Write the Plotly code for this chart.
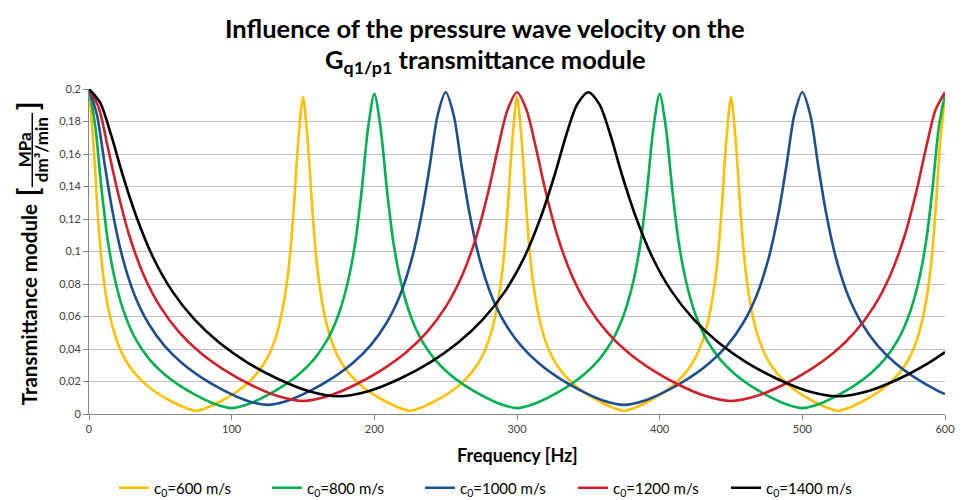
import plotly.graph_objects as go

# ---------------- data ----------------
series_names = ["c<sub>0</sub>=600 m/s", "c<sub>0</sub>=800 m/s", "c<sub>0</sub>=1000 m/s",
                "c<sub>0</sub>=1200 m/s", "c<sub>0</sub>=1400 m/s"]

f_600 = [0, 3.3, 6.7, 10, 14.2, 19.2, 25, 31.7, 39.2, 47.5, 56.7, 65.8, 75,
         84.2, 93.3, 102.5, 110.8, 118.3, 125, 130.8, 135.8, 140, 143.3, 146.7, 150,
         153.3, 156.7, 160, 164.2, 169.2, 175, 181.7, 189.2, 197.5, 206.7, 215.8, 225,
         234.2, 243.3, 252.5, 260.8, 268.3, 275, 280.8, 285.8, 290, 293.3, 296.7, 300,
         303.3, 306.7, 310, 314.2, 319.2, 325, 331.7, 339.2, 347.5, 356.7, 365.8, 375,
         384.2, 393.3, 402.5, 410.8, 418.3, 425, 430.8, 435.8, 440, 443.3, 446.7, 450,
         453.3, 456.7, 460, 464.2, 469.2, 475, 481.7, 489.2, 497.5, 506.7, 515.8, 525,
         534.2, 543.3, 552.5, 560.8, 568.3, 575, 580.8, 585.8, 590, 593.3, 596.7, 600]
g_600 = [0.2, 0.164, 0.116, 0.085, 0.062, 0.046, 0.034, 0.0255, 0.0187, 0.0131, 0.0083, 0.0044, 0.002,
         0.0044, 0.0083, 0.0131, 0.0187, 0.0256, 0.0345, 0.047, 0.065, 0.090, 0.124, 0.168, 0.195,
         0.168, 0.124, 0.090, 0.065, 0.047, 0.0345, 0.0256, 0.0187, 0.0131, 0.0083, 0.0044, 0.002,
         0.0044, 0.0083, 0.0131, 0.0187, 0.0256, 0.0345, 0.047, 0.065, 0.090, 0.124, 0.168, 0.195,
         0.168, 0.124, 0.090, 0.065, 0.047, 0.0345, 0.0256, 0.0187, 0.0131, 0.0083, 0.0044, 0.002,
         0.0044, 0.0083, 0.0131, 0.0187, 0.0256, 0.0345, 0.047, 0.065, 0.090, 0.124, 0.168, 0.195,
         0.168, 0.124, 0.090, 0.065, 0.047, 0.0345, 0.0256, 0.0187, 0.0131, 0.0083, 0.0044, 0.002,
         0.0044, 0.0083, 0.0131, 0.0187, 0.0256, 0.0345, 0.047, 0.065, 0.090, 0.124, 0.168, 0.196]

f_800 = [0, 4.4, 8.9, 13.3, 18.9, 25.6, 33.3, 42.2, 52.2, 63.3, 75.6, 87.8, 100,
         112.2, 124.4, 136.7, 147.8, 157.8, 166.7, 174.4, 181.1, 186.7, 191.1, 195.6, 200,
         204.4, 208.9, 213.3, 218.9, 225.6, 233.3, 242.2, 252.2, 263.3, 275.6, 287.8, 300,
         312.2, 324.4, 336.7, 347.8, 357.8, 366.7, 374.4, 381.1, 386.7, 391.1, 395.6, 400,
         404.4, 408.9, 413.3, 418.9, 425.6, 433.3, 442.2, 452.2, 463.3, 475.6, 487.8, 500,
         512.2, 524.4, 536.7, 547.8, 557.8, 566.7, 574.4, 581.1, 586.7, 591.1, 595.6, 600]
g_800 = [0.2, 0.177, 0.1375, 0.106, 0.080, 0.060, 0.0451, 0.0338, 0.0249, 0.0176, 0.0113, 0.0063, 0.0036,
         0.0063, 0.0113, 0.0176, 0.0249, 0.0338, 0.0451, 0.060, 0.080, 0.106, 0.1375, 0.176, 0.197,
         0.176, 0.1375, 0.106, 0.080, 0.060, 0.0451, 0.0338, 0.0249, 0.0176, 0.0113, 0.0063, 0.0036,
         0.0063, 0.0113, 0.0176, 0.0249, 0.0338, 0.0451, 0.060, 0.080, 0.106, 0.1375, 0.176, 0.197,
         0.176, 0.1375, 0.106, 0.080, 0.060, 0.0451, 0.0338, 0.0249, 0.0176, 0.0113, 0.0063, 0.0036,
         0.0063, 0.0113, 0.0176, 0.0249, 0.0338, 0.0451, 0.060, 0.080, 0.106, 0.1375, 0.176, 0.197]

f_1000 = [0, 5.6, 11.1, 16.7, 23.6, 31.9, 41.7, 52.8, 65.3, 79.2, 94.4, 109.7, 125,
          140.3, 155.6, 170.8, 184.7, 197.2, 208.3, 218.1, 226.4, 233.3, 238.9, 244.4, 250,
          255.6, 261.1, 266.7, 273.6, 281.9, 291.7, 302.8, 315.3, 329.2, 344.4, 359.7, 375,
          390.3, 405.6, 420.8, 434.7, 447.2, 458.3, 468.1, 476.4, 483.3, 488.9, 494.4, 500,
          505.6, 511.1, 516.7, 523.6, 531.9, 541.7, 552.8, 565.3, 579.2, 594.4, 600]
g_1000 = [0.2, 0.184, 0.153, 0.1235, 0.0959, 0.0733, 0.0557, 0.0421, 0.0312, 0.0222, 0.0145, 0.0085, 0.0056,
          0.0085, 0.0145, 0.0222, 0.0312, 0.0421, 0.0557, 0.0733, 0.0959, 0.1235, 0.153, 0.184, 0.198,
          0.184, 0.153, 0.1235, 0.0959, 0.0733, 0.0557, 0.0421, 0.0312, 0.0222, 0.0145, 0.0085, 0.0056,
          0.0085, 0.0145, 0.0222, 0.0312, 0.0421, 0.0557, 0.0733, 0.0959, 0.1235, 0.153, 0.184, 0.198,
          0.184, 0.153, 0.1235, 0.0959, 0.0733, 0.0557, 0.0421, 0.0312, 0.0222, 0.0145, 0.0122]

f_1200 = [0, 6.7, 13.3, 20, 28.3, 38.3, 50, 63.3, 78.3, 95, 113.3, 131.7, 150,
          168.3, 186.7, 205, 221.7, 236.7, 250, 261.7, 271.7, 280, 286.7, 293.3, 300,
          306.7, 313.3, 320, 328.3, 338.3, 350, 363.3, 378.3, 395, 413.3, 431.7, 450,
          468.3, 486.7, 505, 521.7, 536.7, 550, 561.7, 571.7, 580, 586.7, 593.3, 600]
g_1200 = [0.2, 0.1888, 0.1637, 0.1372, 0.1097, 0.0856, 0.0659, 0.0502, 0.0375, 0.027, 0.018, 0.0112, 0.008,
          0.0112, 0.018, 0.027, 0.0375, 0.0502, 0.0659, 0.0856, 0.1097, 0.1372, 0.1637, 0.187, 0.198,
          0.187, 0.1637, 0.1372, 0.1097, 0.0856, 0.0659, 0.0502, 0.0375, 0.027, 0.018, 0.0112, 0.008,
          0.0112, 0.018, 0.027, 0.0375, 0.0502, 0.0659, 0.0856, 0.1097, 0.1372, 0.1637, 0.187, 0.198]

f_1400 = [0, 7.8, 15.6, 23.3, 33.1, 44.7, 58.3, 73.9, 91.4, 110.8, 132.2, 153.6, 175,
          196.4, 217.8, 239.2, 258.6, 276.1, 291.7, 305.3, 316.9, 326.7, 334.4, 342.2, 350,
          357.8, 365.6, 373.3, 383.1, 394.7, 408.3, 423.9, 441.4, 460.8, 482.2, 503.6, 525,
          546.4, 567.8, 589.2, 600]
g_1400 = [0.2, 0.1916, 0.1714, 0.148, 0.1217, 0.0968, 0.0756, 0.0582, 0.0438, 0.0318, 0.0217, 0.0142, 0.0109,
          0.0142, 0.0217, 0.0318, 0.0438, 0.0582, 0.0756, 0.0968, 0.1217, 0.148, 0.1714, 0.1905, 0.198,
          0.1905, 0.1714, 0.148, 0.1217, 0.0968, 0.0756, 0.0582, 0.0438, 0.0318, 0.0217, 0.0142, 0.0109,
          0.0142, 0.0217, 0.0318, 0.0381]

x_ticks = [0, 100, 200, 300, 400, 500, 600]
y_ticks = [0, 0.02, 0.04, 0.06, 0.08, 0.1, 0.12, 0.14, 0.16, 0.18, 0.2]
y_tick_text = ["0", "0,02", "0,04", "0,06", "0,08", "0,1", "0,12", "0,14", "0,16", "0,18", "0,2"]

colors = ["#FFC000", "#00B050", "#1F4E8C", "#D0202A", "#000000"]

# ---------------- figure ----------------
FONT = "Lato"
OFF = 8                      # page body margin of the html page
W, H = 967 - OFF, 500 - OFF
L, R, T, B = 81, 18, 81, 86
pw, ph = W - L - R, H - T - B

def px_x(page_x):
    return (page_x - OFF - L) / pw

def px_y(page_y):
    return (H - B - (page_y - OFF)) / ph

fig = go.Figure()
for name, fx, gy, col in zip(series_names,
                             [f_600, f_800, f_1000, f_1200, f_1400],
                             [g_600, g_800, g_1000, g_1200, g_1400], colors):
    fig.add_trace(go.Scatter(x=fx, y=gy, mode="lines", name=name,
                             line=dict(color=col, width=2.6, shape="spline", smoothing=0.8)))

fig.update_layout(
    width=W, height=H,
    margin=dict(l=L, r=R, t=T, b=B),
    paper_bgcolor="white", plot_bgcolor="white",
    font=dict(family=FONT, color="#000000"),
    showlegend=True,
    legend=dict(orientation="h", xref="container", yref="container",
                x=(114 - OFF) / W, xanchor="left",
                y=(H - (488 - OFF)) / H, yanchor="middle",
                font=dict(size=15, family=FONT, color="#000000"), traceorder="normal",
                itemwidth=30, entrywidth=108, entrywidthmode="pixels"),
    xaxis=dict(range=[0, 600], tickvals=x_ticks, showgrid=False, zeroline=False,
               showline=True, linecolor="#868686", linewidth=1, ticks="outside",
               ticklen=5, tickcolor="#868686",
               tickfont=dict(size=11, family=FONT, color="#404040")),
    yaxis=dict(range=[0, 0.2], tickvals=y_ticks, ticktext=y_tick_text, showgrid=True,
               gridcolor="#BFBFBF", gridwidth=1, zeroline=False,
               showline=True, linecolor="#868686", linewidth=1, ticks="outside",
               ticklen=5, tickcolor="#868686",
               tickfont=dict(size=11, family=FONT, color="#404040")),
)

def note(text, page_x, page_y, size, angle=0):
    return dict(text=text, x=px_x(page_x), y=px_y(page_y), xref="paper", yref="paper",
                showarrow=False, textangle=angle, xanchor="center", yanchor="middle",
                font=dict(size=size, family=FONT, color="#000000"))

ann = [
    note("<b>Influence of the pressure wave velocity on the</b>", 487, 28, 25.5),
    note("<b>G<sub>q1/p1</sub> transmittance module</b>", 487, 61, 25.5),
    note("<b>Frequency [Hz]</b>", 519, 455, 18),
    note("<b>Transmittance module</b>", 29, 305, 20.5, -90),
    note("<b>[</b>", 27, 192, 28, -90),
    note("<b>]</b>", 27, 106, 28, -90),
    note("<b>MPa</b>", 24, 150, 17, -90),
    note("<b>dm³/min</b>", 41, 150, 17, -90),
]
fig.update_layout(annotations=ann)
fig.add_shape(type="line", xref="paper", yref="paper",
              x0=px_x(32), x1=px_x(32), y0=px_y(113), y1=px_y(187),
              line=dict(color="#000000", width=1.5))

fig.write_html("out.html")
